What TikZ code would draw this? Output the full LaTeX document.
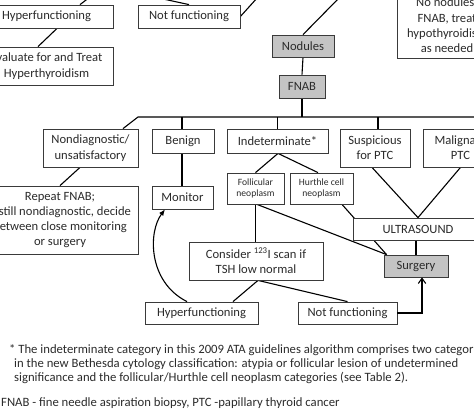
\documentclass[tikz,border=0pt]{standalone}
\usepackage{fontspec}
\setmainfont{Carlito}
\usetikzlibrary{arrows.meta,calc,backgrounds}
\definecolor{ink}{HTML}{2B2B2B}
\definecolor{edge}{HTML}{3A3A3A}
\definecolor{gfill}{HTML}{C4C4C4}
\tikzset{
  every node/.style={font=\fontsize{12.6}{15.3}\selectfont, text=ink},
  sz/.style 2 args={minimum width=#1pt, minimum height=#2pt},
  blk/.style={draw=edge, line width=0.8pt, fill=white, inner sep=0pt, align=center},
  gblk/.style={blk, fill=gfill},
  sml/.style={blk, font=\fontsize{9.6}{11.5}\selectfont},
  ln/.style={line width=1.1pt, draw=black},
  ar/.style={ln, -{Latex[length=2.2mm, width=1.8mm]}},
  arb/.style={ln, -{Straight Barb[length=1.8mm, width=2.6mm]}},
  fn/.style={anchor=west, inner sep=0pt, font=\fontsize{12.7}{14}\selectfont},
}
\begin{document}
\begin{tikzpicture}[x=1pt, y=-1pt]
\useasboundingbox (0,0) rectangle (474,418);
\clip (0,0) rectangle (474,418);

% ============ top: scan result and nodules ==================================
\node[blk, sz={133}{23}] (hyp1) at (46.5,16.5) {Hyperfunctioning};
\node[blk, sz={102}{23}] (notf1) at (189,16.5) {Not functioning};
\node[blk, sz={133}{38}] (treat) at (46.5,66) {Evaluate for and Treat\\Hyperthyroidism};
\node[blk, sz={100}{66}, anchor=south] (nonod) at (447,59)
  {No nodules:\\FNAB, treat\\hypothyroidism\\as needed};
\node[gblk, sz={62}{22}] (nodules) at (303,46) {Nodules};
\node[gblk, sz={46}{23}] (fnab) at (302,86.5) {FNAB};
\coordinate (upA) at (90,-3);
\coordinate (upB) at (154,-3);
\coordinate (upC) at (258,-3);
\coordinate (upD) at (340,-3);

% ============ cytology results =============================================
\coordinate (busL) at (138,117);
\coordinate (busR) at (480,117);
\node[blk, sz={95}{38}] (nondiag) at (90.5,148) {Nondiagnostic/\\unsatisfactory};
\node[blk, sz={62}{24}] (benign) at (183,141) {Benign};
\node[blk, sz={101}{24}] (indet) at (277.5,141) {Indeterminate*};
\node[blk, sz={70}{38}] (susp) at (375,148) {Suspicious\\for PTC};
\node[blk, sz={75}{38}] (malig) at (460.5,148) {Malignant\\PTC};

% ============ follow-up ====================================================
\node[blk, sz={156}{68}] (repeat) at (60,220)
  {Repeat FNAB;\\If still nondiagnostic, decide\\between close monitoring\\or surgery};
\node[blk, sz={61}{23}] (monitor) at (182.5,197.5) {Monitor};
\node[sml, sz={57}{31}] (follic) at (255.5,188.5) {Follicular\\neoplasm};
\node[sml, sz={63}{31}] (hurthle) at (321.5,188.5) {Hurthle cell\\neoplasm};
\node[blk, sz={130}{22}] (ultra) at (418,229) {ULTRASOUND};
\node[gblk, sz={64}{22}] (surgery) at (416,266) {Surgery};
\node[blk, sz={134}{38}] (consider) at (256,261) {Consider \textsuperscript{123}I scan if\\TSH low normal};
\node[blk, sz={113}{22}] (hyp2) at (201.5,313) {Hyperfunctioning};
\node[blk, sz={99}{22}] (notf2) at (347.5,313) {Not functioning};

% ============ connectors ===================================================
\begin{scope}[on background layer]
  \clip (0,0) rectangle (474,418);
  \draw[ln] (upA) -- ([xshift=33.5pt]hyp1.north);
  \draw[ln] (upB) -- (notf1.north);
  \draw[ln] (notf1.east) -- (upC);
  \draw[ln] (upD) -- (nodules.north);
  \draw[ln] ([xshift=10.5pt]hyp1.south) -- ([xshift=-8.5pt]treat.north);
  \draw[ln] (nodules.south) -- (fnab.north);
  \draw[ln] (fnab.south) -- (fnab.south |- busL);
  \draw[ln] ([xshift=32.5pt]nondiag.north) -- (busL) -- (busR);
  \draw[ln] ([xshift=-1pt]benign.north) -- ([xshift=-1pt]benign.north |- busL);
  \draw[ln] (indet.north) -- (indet.north |- busL);
  \draw[ln] ([xshift=3pt]susp.north) -- ([xshift=3pt]susp.north |- busL);
  \draw[ln] ([xshift=-10.5pt]nondiag.south) -- (repeat.north);
  \draw[ln] ([xshift=-1pt]benign.south) -- ([xshift=-0.5pt]monitor.north);
  \draw[ln] ([xshift=0.5pt]indet.south) -- (follic.north);
  \draw[ln] ([xshift=0.5pt]indet.south) -- ([xshift=-3.5pt]hurthle.north);
  \draw[ln] ([xshift=-3pt]susp.south) -- (ultra.north);
  \draw[ln] (malig.south) -- (ultra.north);
  \draw[ln] ([xshift=20.5pt]hurthle.south) -- ([xshift=3pt]surgery.north west);
  \draw[ln] ([xshift=1.5pt]follic.south) -- ([xshift=3pt]surgery.north west);
  \draw[ln] (follic.south) -- (follic.south |- consider.north);
  \draw[ln] (surgery.north) -- (surgery.north |- ultra.south);
  \draw[ln] ([xshift=2pt]consider.south) -- ([xshift=31.5pt]hyp2.north);
  \draw[ln] ([xshift=2pt]consider.south) -- (notf2.north);
\end{scope}
\draw[ar] ([xshift=-14.5pt]hyp2.north) .. controls (148,282) and (148,232) .. ([xshift=-17.5pt]monitor.south);
\draw[arb] (notf2.east) -| ([xshift=6pt]surgery.south);

% ============ footnote =====================================================
\node[fn] (fn1) at (9,350) {* The indeterminate category in this 2009 ATA guidelines algorithm comprises two categories};
\node[fn] (fn2) at (14,364) {in the new Bethesda cytology classification: atypia or follicular lesion of undetermined};
\node[fn] (fn3) at (14,378) {significance and the follicular/Hurthle cell neoplasm categories (see Table 2).};
\node[fn] (fn4) at (1,403) {FNAB - fine needle aspiration biopsy, PTC -papillary thyroid cancer};

\end{tikzpicture}
\end{document}
